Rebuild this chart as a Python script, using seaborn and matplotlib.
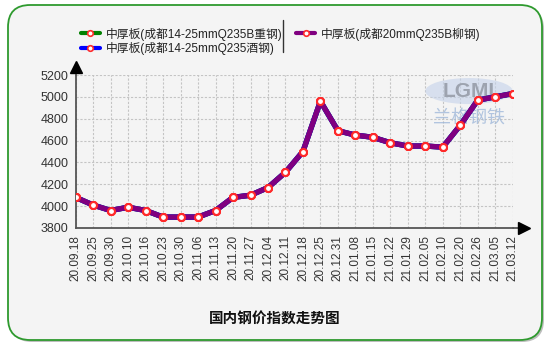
import matplotlib
matplotlib.use("Agg")
import matplotlib.pyplot as plt
import seaborn as sns
import pandas as pd
from matplotlib.lines import Line2D
from matplotlib.patches import FancyBboxPatch, Ellipse

dates = ["20.09.18", "20.09.25", "20.09.30", "20.10.10", "20.10.16", "20.10.23",
         "20.10.30", "20.11.06", "20.11.13", "20.11.20", "20.11.27", "20.12.04",
         "20.12.11", "20.12.18", "20.12.25", "20.12.31", "21.01.08", "21.01.15",
         "21.01.22", "21.01.29", "21.02.05", "21.02.10", "21.02.20", "21.02.26",
         "21.03.05", "21.03.12"]
zhonggang = [4080, 4010, 3960, 3990, 3960, 3900, 3900, 3900, 3960, 4080, 4100, 4170,
             4310, 4500, 4960, 4690, 4650, 4630, 4580, 4550, 4550, 4540, 4740, 4970,
             5000, 5030]
jiugang = list(zhonggang)
liugang = list(zhonggang)
series_names = ["中厚板(成都14-25mmQ235B重钢)", "中厚板(成都14-25mmQ235酒钢)",
                "中厚板(成都20mmQ235B柳钢)"]
series_colors = ["#008000", "#0000ff", "#800080"]
y_ticks = [3800, 4000, 4200, 4400, 4600, 4800, 5000, 5200]
title = "国内钢价指数走势图"

rows = []
for name, vals in zip(series_names, [zhonggang, jiugang, liugang]):
    for i, v in enumerate(vals):
        rows.append({"idx": i, "value": v, "series": name})
df = pd.DataFrame(rows)

sns.set_theme(style="white")
plt.rcParams['font.family'] = ['Liberation Sans', 'Noto Sans CJK SC', 'DejaVu Sans']

fig = plt.figure(figsize=(5.54, 3.53), dpi=100)
fig.patch.set_facecolor("white")

# rounded frame with shadow
W, H = 554, 353
shadow = FancyBboxPatch((10 / W, 11 / H), 534 / W, 335 / H,
                        boxstyle="round,pad=0,rounding_size=0.04",
                        transform=fig.transFigure, facecolor="#bdbdbd", edgecolor="none",
                        zorder=-3, mutation_aspect=W / H)
fig.add_artist(shadow)
frame = FancyBboxPatch((8 / W, 13 / H), 534 / W, 335 / H,
                       boxstyle="round,pad=0,rounding_size=0.04",
                       transform=fig.transFigure, facecolor="#f4f4f4", edgecolor="#2e9a2e",
                       linewidth=1.3, zorder=-2, mutation_aspect=W / H)
fig.add_artist(frame)

ax = fig.add_axes([75.7 / W, (H - 228) / H, 437 / W, 153 / H])
ax.set_facecolor("none")
ax.set_zorder(2)

sns.lineplot(data=df, x="idx", y="value", hue="series", hue_order=series_names,
             palette=series_colors, linewidth=3.8, marker="o", markersize=5,
             markerfacecolor="white", markeredgecolor="#ff2a2a", markeredgewidth=1.5,
             legend=False, ax=ax, sort=False, solid_joinstyle="round", zorder=3)

ax.set_xlim(0, len(dates) - 1)
ax.set_ylim(y_ticks[0], y_ticks[-1])
ax.set_xticks(range(len(dates)))
ax.set_xticklabels(dates, rotation=90, fontsize=8.5, color="#333333")
ax.set_yticks(y_ticks)
ax.set_yticklabels([str(t) for t in y_ticks], fontsize=9, color="#333333")
ax.set_xlabel("")
ax.set_ylabel("")

ax.grid(True, color="#c4c4c4", linestyle=(0, (2, 1.5)), linewidth=0.8)
for s in ["top", "right"]:
    ax.spines[s].set_visible(False)
for s in ["left", "bottom"]:
    ax.spines[s].set_color("#555555")
    ax.spines[s].set_linewidth(1.3)
ax.tick_params(axis="both", direction="out", length=3, width=1, color="#555555", pad=2)

# axis arrows
ax.plot([1, 1.03], [0, 0], transform=ax.transAxes, color="#555555", lw=1.3, clip_on=False)
ax.plot([1.025], [0], transform=ax.transAxes, marker=">", color="black", markersize=8,
        clip_on=False, linestyle="none")
ax.plot([0, 0], [1, 1.06], transform=ax.transAxes, color="#555555", lw=1.3, clip_on=False)
ax.plot([0], [1.055], transform=ax.transAxes, marker="^", color="black", markersize=8,
        clip_on=False, linestyle="none")

# watermark
ax.add_patch(Ellipse((0.9, 0.895), 0.2, 0.17, transform=ax.transAxes,
                     facecolor="#c4d2ea", edgecolor="none", alpha=0.6, zorder=1))
ax.text(0.9, 0.895, "LGMI", transform=ax.transAxes, fontsize=15, color="#8f95a0",
        ha="center", va="center", fontweight="bold", alpha=0.8, zorder=1)
ax.text(0.9, 0.715, "兰格钢铁", transform=ax.transAxes, fontsize=13, color="#9bb5d8",
        ha="center", va="center", alpha=0.75, zorder=1,
        family=['Noto Sans CJK SC', 'DejaVu Sans'])

# legend
handles = [Line2D([0], [0], color=c, lw=3, marker="o", markersize=4,
                  markerfacecolor="white", markeredgecolor="#ff2a2a", markeredgewidth=1.2)
           for c in series_colors]
leg = fig.legend(handles, series_names, ncol=2, loc="upper left",
                 bbox_to_anchor=(70 / W, 1 - 17 / H), frameon=False,
                 prop={"family": ['Liberation Sans', 'Noto Sans CJK SC'], "size": 8.5},
                 handlelength=1.6, handletextpad=0.5, labelspacing=0.1, columnspacing=1.2)
for t in leg.get_texts():
    t.set_color("#222222")
fig.add_artist(Line2D([283 / W, 283 / W], [1 - 20 / H, 1 - 52 / H],
                      transform=fig.transFigure, color="#333333", lw=1))

fig.text(275 / W, 1 - 318 / H, title, ha="center", va="center", fontsize=10.5,
         fontweight="bold", color="#111111", family=['Noto Sans CJK SC', 'DejaVu Sans'])

fig.savefig("out.png", dpi=100)
